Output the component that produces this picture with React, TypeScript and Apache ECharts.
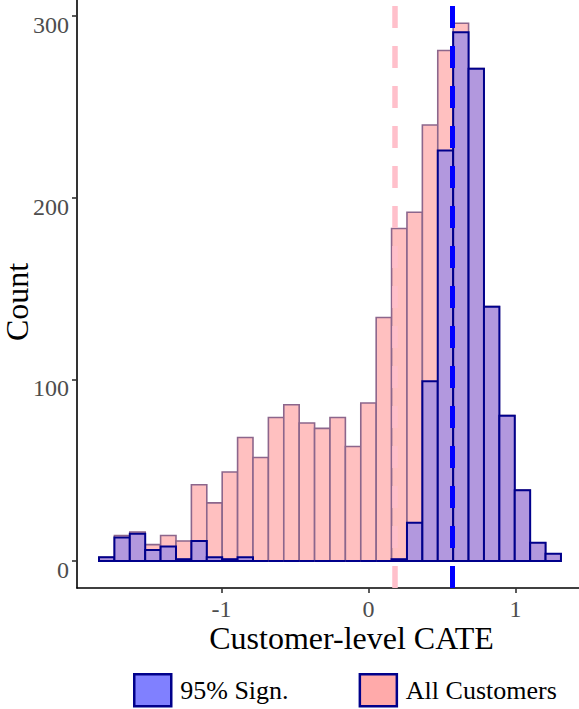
import React, { useEffect, useRef } from "react";
import * as echarts from "echarts";

// Histogram grid (data units)
const BIN_START = -1.8333;
const BIN_WIDTH = 0.10476;

// Counts per bin (30 bins)
const allCustomers = [2, 14, 16, 9, 14, 11, 42, 32, 49, 68, 57, 79, 86, 76, 73, 79, 63, 87, 134, 183, 192, 240, 281, 296, 271, 140, 80, 39, 10, 4];
const significant = [2, 13, 15, 6, 8, 1, 11, 2, 1, 2, 0, 0, 0, 0, 0, 0, 0, 0, 0, 1, 21, 99, 226, 291, 271, 140, 80, 39, 10, 4];

const meanAll = 0.182;
const meanSig = 0.568;

const xTicks = [-1, 0, 1];
const yTicks = [0, 100, 200, 300];

const seriesNames = ["95% Sign.", "All Customers"];

const FONT = "'Liberation Serif', 'Times New Roman', serif";

function toBins(counts: number[]) {
  return counts.map((c, i) => [BIN_START + i * BIN_WIDTH, BIN_START + (i + 1) * BIN_WIDTH, c]);
}

function makeRender(fill: string, stroke: string, lw: number) {
  return (params: any, api: any) => {
    const x0 = api.value(0);
    const x1 = api.value(1);
    const c = api.value(2);
    const p0 = api.coord([x0, c]);
    const p1 = api.coord([x1, 0]);
    if (c === 0) {
      return {
        type: "line",
        shape: { x1: p0[0], y1: p1[1], x2: p1[0], y2: p1[1] },
        style: { stroke, lineWidth: lw, fill: null },
      };
    }
    return {
      type: "rect",
      shape: { x: p0[0], y: p0[1], width: p1[0] - p0[0], height: p1[1] - p0[1] },
      style: { fill, stroke, lineWidth: lw },
    };
  };
}

export default function App() {
  const ref = useRef<HTMLDivElement>(null);
  useEffect(() => {
    if (!ref.current) return;
    const chart = echarts.init(ref.current, null, { renderer: "svg" });
    chart.setOption({
      animation: false,
      backgroundColor: "#ffffff",
      grid: { left: 77, right: -47, top: -4, bottom: 121, containLabel: false, outerBoundsMode: "none" },
      xAxis: {
        type: "value",
        min: -1.983,
        max: 1.752,
        axisLine: { show: true, onZero: false, lineStyle: { color: "#000", width: 1.6 } },
        axisTick: { show: true, length: 5, customValues: xTicks, lineStyle: { color: "#333", width: 1.6 } },
        axisLabel: { customValues: xTicks, margin: 9, color: "#4d4d4d", fontSize: 24, fontFamily: FONT },
        splitLine: { show: false },
        name: "Customer-level CATE",
        nameLocation: "middle",
        nameGap: 34,
        nameMoveOverlap: false,
        nameTextStyle: { fontSize: 32, color: "#000", fontFamily: FONT },
      },
      yAxis: {
        type: "value",
        min: -14.86,
        max: 311,
        axisLine: { show: true, onZero: false, lineStyle: { color: "#000", width: 1.6 } },
        axisTick: { show: true, length: 5, customValues: yTicks, lineStyle: { color: "#333", width: 1.6 } },
        axisLabel: {
          customValues: yTicks,
          margin: 8,
          color: "#4d4d4d",
          fontSize: 24,
          fontFamily: FONT,
          verticalAlign: "top",
          lineHeight: 18,
        },
        splitLine: { show: false },
        name: "Count",
        nameLocation: "middle",
        nameGap: 44,
        nameRotate: 90,
        nameMoveOverlap: false,
        nameTextStyle: { fontSize: 32, color: "#000", fontFamily: FONT, padding: [0, 20, 0, 0] },
      },
      legend: {
        left: 128,
        top: 668,
        icon: "rect",
        itemWidth: 37,
        itemHeight: 32,
        itemGap: 70,
        textStyle: { fontSize: 26, color: "#000", fontFamily: FONT, padding: [0, 0, 0, 4] },
        data: [
          { name: seriesNames[0], itemStyle: { color: "#8080FF", borderColor: "#00008B", borderWidth: 2.5 } },
          { name: seriesNames[1], itemStyle: { color: "#FFAAAA", borderColor: "#00008B", borderWidth: 2.5 } },
        ],
      },
      series: [
        {
          type: "custom",
          name: seriesNames[1],
          data: toBins(allCustomers),
          encode: { x: [0, 1], y: 2 },
          renderItem: makeRender("#FFC0C0", "#8C668C", 1.6),
          z: 2,
          markLine: {
            silent: true,
            symbol: "none",
            label: { show: false },
            z: 3,
            lineStyle: { color: "#FFC0CB", width: 5.5, type: [22, 18], opacity: 1 },
            data: [{ xAxis: meanAll }],
          },
        },
        {
          type: "custom",
          name: seriesNames[0],
          data: toBins(significant),
          encode: { x: [0, 1], y: 2 },
          renderItem: makeRender("#B298DE", "#00008B", 2),
          z: 4,
          markLine: {
            silent: true,
            symbol: "none",
            label: { show: false },
            z: 5,
            lineStyle: { color: "#0000FF", width: 5, type: [22, 18], opacity: 1 },
            data: [{ xAxis: meanSig }],
          },
        },
      ],
    });
    return () => chart.dispose();
  }, []);
  return <div ref={ref} style={{ width: 579, height: 709, position: "absolute", left: 0, top: 0 }} />;
}
